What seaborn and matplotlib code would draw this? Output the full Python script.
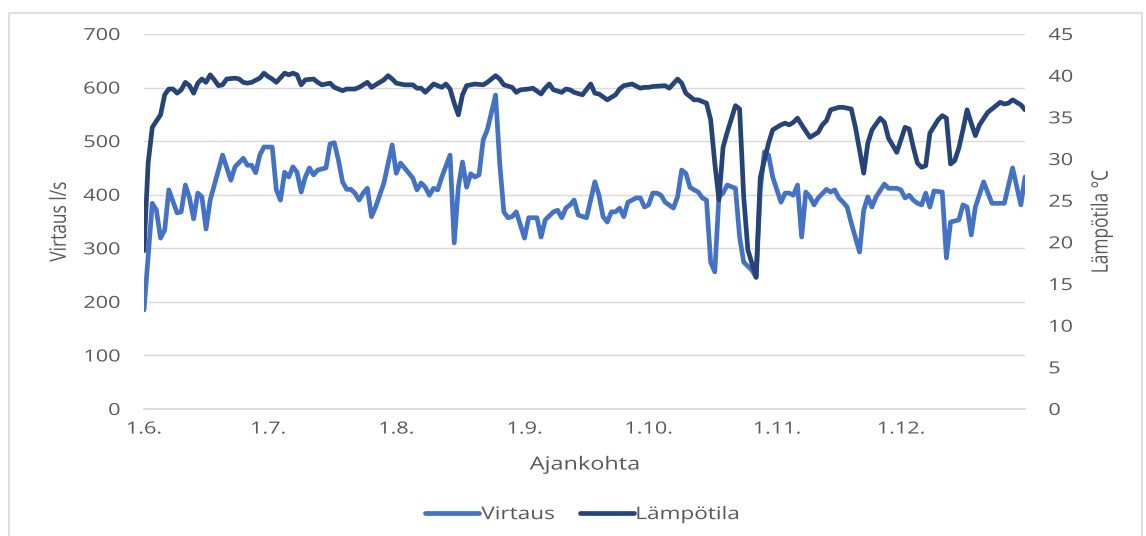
import numpy as np
import pandas as pd
import matplotlib
matplotlib.use("Agg")
import matplotlib.pyplot as plt
from matplotlib.lines import Line2D
from matplotlib.patches import Rectangle
from matplotlib.patheffects import AbstractPathEffect
from matplotlib.transforms import Affine2D
import seaborn as sns

# Measurement days counted from 1 June, and the daily values on those days
virtaus_paiva = [0, 2, 3, 4, 5, 6, 8, 9, 10, 11, 12, 13, 14, 15, 16, 19, 21, 22, 24, 25,
                 26, 27, 28, 29, 31, 32, 33, 34, 35, 36, 37, 38, 39, 40, 41, 42, 44, 45, 46, 47,
                 48, 49, 50, 51, 52, 53, 54, 55, 56, 58, 60, 61, 62, 63, 65, 66, 67, 68, 69, 70,
                 71, 72, 74, 75, 76, 77, 78, 79, 80, 81, 82, 83, 85, 86, 87, 88, 89, 90, 92, 93,
                 94, 95, 96, 97, 99, 100, 101, 102, 103, 104, 105, 107, 109, 110, 111, 112, 113, 114, 115, 116,
                 117, 119, 120, 121, 122, 123, 124, 125, 126, 128, 129, 130, 131, 132, 133, 134, 135, 136, 137, 138,
                 139, 140, 141, 143, 144, 145, 147, 148, 149, 150, 151, 152, 154, 155, 156, 157, 158, 159, 160, 161,
                 162, 163, 165, 166, 167, 168, 169, 170, 171, 173, 174, 175, 176, 177, 179, 180, 182, 183, 184, 185,
                 186, 187, 188, 189, 190, 191, 193, 194, 195, 197, 198, 199, 200, 201, 203, 205, 206, 208, 210, 212,
                 213]
virtaus = [185, 384, 371, 319, 334, 409, 366, 368, 418, 394, 355, 403, 396, 336, 390, 474, 427, 452, 468, 455,
           455, 441, 474, 489, 489, 409, 390, 442, 433, 452, 442, 405, 433, 450, 437, 446, 450, 495, 497, 465,
           424, 410, 410, 403, 390, 403, 412, 359, 377, 422, 493, 440, 459, 450, 431, 409, 422, 414, 399, 412,
           409, 433, 474, 310, 414, 461, 414, 439, 433, 437, 502, 521, 586, 459, 368, 357, 359, 368, 319, 357,
           357, 357, 321, 353, 368, 371, 357, 375, 381, 390, 362, 357, 424, 399, 359, 349, 368, 368, 375, 359,
           386, 394, 394, 377, 381, 403, 403, 399, 386, 375, 396, 446, 440, 414, 409, 405, 394, 390, 274, 256,
           396, 403, 418, 412, 321, 274, 259, 246, 409, 480, 474, 433, 386, 403, 403, 399, 418, 321, 405, 396,
           381, 394, 410, 405, 409, 394, 386, 377, 347, 293, 371, 396, 377, 396, 420, 412, 412, 409, 394, 399,
           390, 384, 381, 403, 377, 407, 405, 282, 349, 353, 381, 377, 325, 377, 424, 384, 384, 384, 450, 381,
           433]

lampo_paiva = [0, 1, 2, 4, 5, 6, 7, 8, 9, 10, 11, 12, 13, 14, 15, 16, 17, 18, 19, 20,
               22, 23, 24, 25, 26, 28, 29, 30, 31, 32, 34, 35, 36, 37, 38, 39, 41, 42, 43, 45,
               46, 48, 49, 51, 52, 54, 55, 56, 58, 59, 60, 61, 63, 65, 66, 67, 68, 69, 70, 72,
               73, 74, 75, 76, 77, 78, 80, 82, 83, 85, 86, 87, 89, 90, 91, 93, 94, 96, 97, 98,
               99, 101, 102, 103, 104, 106, 108, 109, 110, 112, 114, 115, 116, 118, 120, 121, 122, 123, 126, 127,
               129, 130, 131, 133, 134, 136, 137, 138, 139, 140, 141, 143, 144, 145, 146, 148, 149, 151, 152, 154,
               155, 156, 157, 158, 159, 161, 163, 164, 165, 166, 168, 169, 171, 172, 173, 174, 175, 176, 178, 179,
               180, 182, 183, 184, 185, 186, 187, 188, 189, 190, 192, 193, 194, 195, 196, 197, 198, 199, 200, 201,
               202, 204, 205, 207, 208, 209, 210, 212, 213]
lampotila = [19.0, 29.5, 33.8, 35.3, 37.7, 38.4, 38.4, 37.9, 38.3, 39.2, 38.8, 37.9, 39.1, 39.6, 39.2, 40.1, 39.5, 38.8, 38.9, 39.6,
             39.7, 39.6, 39.2, 39.1, 39.2, 39.7, 40.3, 39.9, 39.6, 39.2, 40.3, 40.1, 40.3, 40.1, 38.9, 39.5, 39.6, 39.2, 38.9, 39.1,
             38.6, 38.2, 38.4, 38.4, 38.6, 39.2, 38.6, 38.9, 39.5, 40.0, 39.6, 39.1, 38.9, 38.9, 38.5, 38.5, 38.0, 38.5, 39.0, 38.6,
             39.0, 38.4, 36.7, 35.3, 37.7, 38.8, 39.0, 38.9, 39.2, 40.0, 39.6, 38.9, 38.6, 38.0, 38.3, 38.4, 38.5, 37.8, 38.5, 39.0,
             38.3, 38.0, 38.4, 38.3, 38.0, 37.7, 39.0, 37.9, 37.8, 37.1, 37.7, 38.4, 38.8, 39.0, 38.5, 38.6, 38.6, 38.7, 38.8, 38.5,
             39.6, 39.1, 37.9, 37.1, 37.1, 36.7, 34.7, 29.5, 25.1, 31.4, 33.2, 36.4, 36.0, 25.4, 19.1, 15.8, 27.8, 31.9, 33.5, 34.1,
             34.3, 34.1, 34.4, 34.9, 34.1, 32.6, 33.2, 34.1, 34.6, 35.9, 36.2, 36.2, 36.0, 33.8, 31.1, 28.3, 31.9, 33.5, 34.9, 34.4,
             32.5, 30.8, 32.3, 33.8, 33.6, 31.4, 29.5, 29.0, 29.2, 33.1, 34.7, 35.2, 34.9, 29.4, 29.8, 31.3, 33.5, 35.9, 34.3, 32.8,
             34.1, 35.6, 36.0, 36.8, 36.6, 36.7, 37.1, 36.5, 35.9]

alku = pd.Timestamp("2021-06-01")
df_v = pd.DataFrame({"Ajankohta": alku + pd.to_timedelta(virtaus_paiva, unit="D"), "Virtaus": virtaus})
df_t = pd.DataFrame({"Ajankohta": alku + pd.to_timedelta(lampo_paiva, unit="D"), "Lämpötila": lampotila})

kk_alut = pd.date_range("2021-06-01", "2021-12-01", freq="MS")
kk_nimet = [f"{d.day}.{d.month}." for d in kk_alut]

VAALEA = "#4472C4"
TUMMA = "#264478"
HARMAA = "#595959"
RUUDUKKO = "#D9D9D9"
VENYTYS = 1.3  # wide lettering


class Leveys(AbstractPathEffect):
    """Draws glyphs widened along the page's horizontal direction."""

    def __init__(self, kerroin, ankkuri="center", pysty=False):
        super().__init__()
        self.kerroin = kerroin
        self.ankkuri = ankkuri
        self.pysty = pysty

    def draw_path(self, renderer, gc, tpath, affine, rgbFace=None):
        e = tpath.get_extents()
        if self.pysty:
            cy = (e.y0 + e.y1) / 2
            pre = Affine2D().translate(0, -cy).scale(1, self.kerroin).translate(0, cy)
        else:
            cx = {"left": e.x0, "right": e.x1}.get(self.ankkuri, (e.x0 + e.x1) / 2)
            pre = Affine2D().translate(-cx, 0).scale(self.kerroin, 1).translate(cx, 0)
        renderer.draw_path(gc, tpath, pre + affine, rgbFace)


sns.set_theme(style="white")
plt.rcParams["font.family"] = ["Open Sans", "DejaVu Sans"]

fig = plt.figure(figsize=(11.46, 5.36), dpi=100)
ax = fig.add_axes([144 / 1146, 1 - 409 / 536, (1025 - 144) / 1146, (409 - 34) / 536])
ax2 = ax.twinx()

# chart-area frame
fig.patches.append(Rectangle((9 / 1146, -0.05), (1142 - 9) / 1146, 1.05 - 13 / 536,
                             transform=fig.transFigure, fill=False, edgecolor=RUUDUKKO, lw=1.2))

sns.lineplot(data=df_v, x="Ajankohta", y="Virtaus", ax=ax, color=VAALEA, lw=3.4, zorder=3)
sns.lineplot(data=df_t, x="Ajankohta", y="Lämpötila", ax=ax2, color=TUMMA, lw=3.4, zorder=3)

ax.set_ylim(0, 700)
ax.set_yticks(np.arange(0, 701, 100))
ax2.set_ylim(0, 45)
ax2.set_yticks(np.arange(0, 46, 5))
ax.set_xlim(alku, alku + pd.Timedelta(days=213))
ax.set_xticks(kk_alut)
ax.set_xticklabels(kk_nimet)

ax.grid(axis="y", color=RUUDUKKO, lw=1.0)
ax.set_axisbelow(True)
for a in (ax, ax2):
    for s in a.spines.values():
        s.set_visible(False)
ax.spines["bottom"].set_visible(True)
ax.spines["bottom"].set_color(RUUDUKKO)

ax.tick_params(axis="y", length=0, pad=17, labelsize=12, labelcolor=HARMAA)
ax2.tick_params(axis="y", length=0, pad=17, labelsize=12, labelcolor=HARMAA)
ax.tick_params(axis="x", length=4, width=1, color=RUUDUKKO, pad=5, labelsize=12, labelcolor=HARMAA)

ax.set_xlabel("Ajankohta", fontsize=13, color=HARMAA, labelpad=13)
ax.set_ylabel("Virtaus l/s", fontsize=12.5, color=HARMAA, labelpad=17)
ax2.set_ylabel("Lämpötila °C", fontsize=12.5, color=HARMAA, labelpad=19)

for t in ax.get_xticklabels():
    t.set_path_effects([Leveys(VENYTYS, "center")])
for t in ax.get_yticklabels():
    t.set_path_effects([Leveys(VENYTYS, "right")])
for t in ax2.get_yticklabels():
    t.set_path_effects([Leveys(VENYTYS, "left")])
ax.xaxis.label.set_path_effects([Leveys(VENYTYS, "center")])
ax.yaxis.label.set_path_effects([Leveys(VENYTYS, pysty=True)])
ax2.yaxis.label.set_path_effects([Leveys(VENYTYS, pysty=True)])

kahvat = [Line2D([], [], color=VAALEA, lw=3.4), Line2D([], [], color=TUMMA, lw=3.4)]
leg = fig.legend(kahvat, ["Virtaus", "Lämpötila"], loc="center", bbox_to_anchor=(571 / 1146, 1 - 515 / 536),
                 ncol=2, frameon=False, fontsize=12.5, handlelength=3.1, handletextpad=0.12,
                 columnspacing=2.4)
for t in leg.get_texts():
    t.set_color(HARMAA)
    t.set_path_effects([Leveys(VENYTYS, "left")])

fig.savefig("out.png", dpi=100)
